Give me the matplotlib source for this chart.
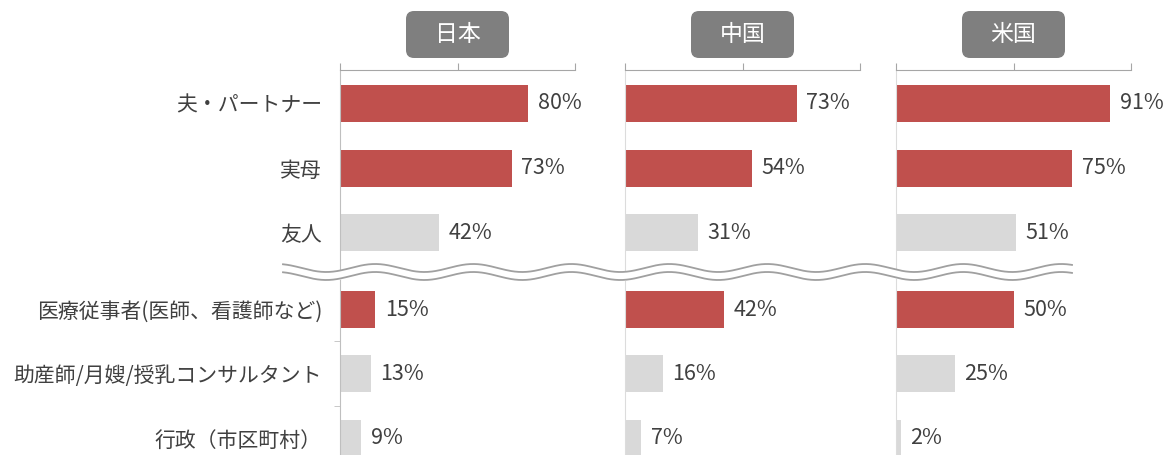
import numpy as np
import matplotlib.pyplot as plt
from matplotlib.patches import FancyBboxPatch

plt.rcParams['font.family'] = ['Noto Sans CJK JP', 'DejaVu Sans']

countries = ['日本', '中国', '米国']
categories = ['夫・パートナー', '実母', '友人',
              '医療従事者(医師、看護師など)', '助産師/月嫂/授乳コンサルタント', '行政（市区町村）']
japan = [80, 73, 42, 15, 13, 9]
china = [73, 54, 31, 42, 16, 7]
usa = [91, 75, 51, 50, 25, 2]
highlight = [True, True, False, True, False, False]

RED = '#c0504d'
GRAY = '#d9d9d9'
TXT = '#404040'

W, H = 1172, 455
fig = plt.figure(figsize=(W / 100, H / 100), dpi=100)

# panel layout in pixels
panel_left = [340, 625, 896]
panel_w = 235
top_px = 70
rows = [0, 1, 2, 3.18, 4.17, 5.16]

axes = []
for k, vals in enumerate([japan, china, usa]):
    ax = fig.add_axes([panel_left[k] / W, 0, panel_w / W, (H - top_px) / H])
    cols = [RED if h else GRAY for h in highlight]
    ax.barh(rows, vals, height=0.57, color=cols, zorder=2)
    for v, y in zip(vals, rows):
        ax.annotate(f'{v}%', (v, y), xytext=(7, 0), textcoords='offset points',
                    va='center', ha='left', fontsize=15.5, color=TXT, annotation_clip=False)
    ax.set_xlim(0, 100)
    ax.set_ylim(5.42, -0.51)
    ax.xaxis.tick_top()
    ax.set_xticks([0, 50, 100])
    ax.tick_params(axis='x', length=5, color='#a6a6a6', labeltop=False, labelbottom=False)
    for s in ['right', 'bottom']:
        ax.spines[s].set_visible(False)
    ax.spines['top'].set_color('#a6a6a6')
    ax.spines['left'].set_color('#bfbfbf' if k == 0 else '#dcdcdc')
    if k == 0:
        ax.set_yticks(rows)
        ax.set_yticklabels(categories, fontsize=15, color=TXT)
        ax.tick_params(axis='y', length=0, pad=13)
        ax.set_yticks([3.67, 4.67], minor=True)
        ax.tick_params(axis='y', which='minor', length=4, color='#bfbfbf')
    else:
        ax.set_yticks([])
    ax.patch.set_visible(False)
    axes.append(ax)

# overlay for break wave and headers (pixel coordinates)
ov = fig.add_axes([0, 0, 1, 1], zorder=5)
ov.set_xlim(0, W)
ov.set_ylim(H, 0)
ov.axis('off')
ov.patch.set_visible(False)

xw = np.linspace(283, 1072, 600)
upper = 268 + 4 * np.sin(2 * np.pi * (xw - 283) / 98 - 1.2)
lower = upper + 8
ov.fill_between(xw, upper, lower, color='white', zorder=1)
ov.plot(xw, upper, color='#a0a0a0', lw=1.3, zorder=2)
ov.plot(xw, lower, color='#a0a0a0', lw=1.3, zorder=2)

box_w, box_h, box_top = 103, 47, 11
for k, name in enumerate(countries):
    cx = panel_left[k] + panel_w / 2
    ov.add_patch(FancyBboxPatch((cx - box_w / 2, box_top), box_w, box_h,
                                boxstyle='round,pad=0,rounding_size=8',
                                fc='#7f7f7f', ec='none', zorder=3))
    ov.text(cx, box_top + box_h / 2, name, color='white', fontsize=16.5,
            ha='center', va='center', zorder=4)

fig.savefig('out.png', dpi=100)
